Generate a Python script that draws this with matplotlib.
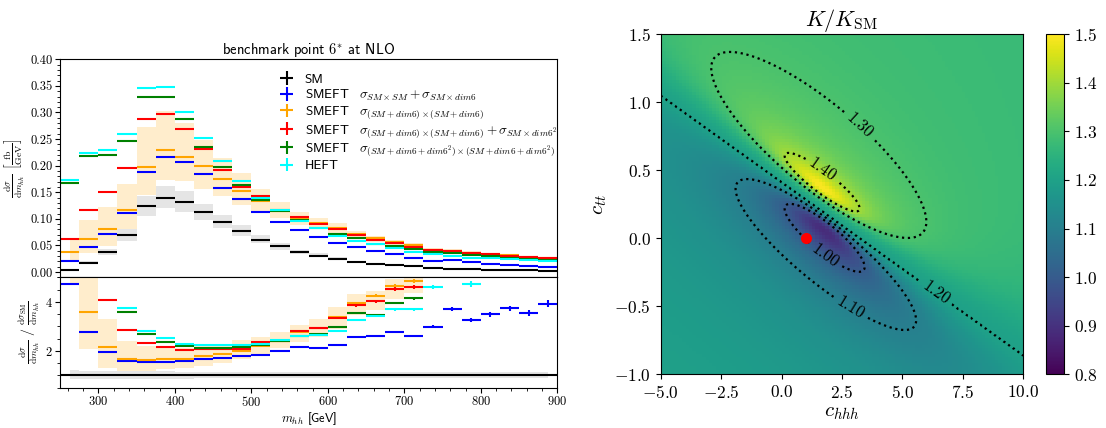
import numpy as np
import matplotlib
matplotlib.use('Agg')  # no display
import matplotlib.pyplot as plt
from matplotlib.ticker import MultipleLocator, AutoMinorLocator, FormatStrFormatter

plt.rcParams['font.family'] = 'serif'
plt.rcParams['font.serif'] = ['cmr10']
plt.rcParams['mathtext.fontset'] = 'cm'
plt.rcParams['axes.formatter.use_mathtext'] = True
plt.rcParams['axes.unicode_minus'] = True

SANS = 'cmss10'

# m_hh bins [GeV]
m_edges = np.arange(250, 925, 25)

# dsigma/dm_hh [fb/GeV] per bin
sm = [0.0042, 0.0172, 0.0370, 0.0688, 0.1232, 0.1390, 0.1320, 0.1120, 0.0935, 0.0765, 0.0610, 0.0480, 0.0370,
      0.0310, 0.0243, 0.0180, 0.0152, 0.0122, 0.0104, 0.0072, 0.0059, 0.0057, 0.0041, 0.0037, 0.0031, 0.0026]
smeft_lin = [0.0199, 0.0473, 0.0714, 0.1101, 0.1885, 0.2170, 0.2077, 0.1846, 0.1580, 0.1377, 0.1122, 0.0946, 0.0796,
             0.0654, 0.0544, 0.0461, 0.0397, 0.0336, 0.0270, 0.0215, 0.0218, 0.0186, 0.0143, 0.0138, 0.0110, 0.0102]
smeft_sq = [0.0369, 0.0619, 0.0801, 0.1157, 0.1983, 0.2297, 0.2172, 0.1996, 0.1746, 0.1514, 0.1330, 0.1150, 0.1021,
            0.0912, 0.0821, 0.0711, 0.0646, 0.0567, 0.0503, 0.0415, 0.0395, 0.0363, 0.0338, 0.0312, 0.0287, 0.0262]
smeft_sq_dim62 = [0.0619, 0.1157, 0.1508, 0.1959, 0.2873, 0.2973, 0.2685, 0.2316, 0.1921, 0.1600, 0.1433, 0.1160, 0.1036,
                  0.0908, 0.0816, 0.0693, 0.0611, 0.0551, 0.0479, 0.0406, 0.0387, 0.0356, 0.0331, 0.0306, 0.0281, 0.0256]
smeft_full = [0.1683, 0.2184, 0.2203, 0.2472, 0.3286, 0.3286, 0.2873, 0.2360, 0.1983, 0.1640, 0.1357, 0.1151, 0.0969,
              0.0834, 0.0722, 0.0637, 0.0527, 0.0482, 0.0430, 0.0370, 0.0356, 0.0325, 0.0294, 0.0270, 0.0244, 0.0225]
heft = [0.1721, 0.2247, 0.2297, 0.2590, 0.3455, 0.3487, 0.3017, 0.2516, 0.2096, 0.1715, 0.1390, 0.1169, 0.0962,
        0.0822, 0.0685, 0.0583, 0.0521, 0.0451, 0.0385, 0.0332, 0.0302, 0.0270, 0.0256, 0.0244, 0.0218, 0.0200]

# scale band of the sigma_(SM+dim6)x(SM+dim6) prediction
sq_band_lo = [0.0200, 0.0356, 0.0481, 0.0807, 0.1450, 0.1734, 0.1702, 0.1564, 0.1421, 0.1260, 0.1130, 0.1010, 0.0880,
              0.0800, 0.0702, 0.0625, 0.0559, 0.0501, 0.0455, 0.0385, 0.0365, 0.0336, 0.0313, 0.0290, 0.0266, 0.0243]
sq_band_hi = [0.0607, 0.0982, 0.1220, 0.1658, 0.2722, 0.3035, 0.2810, 0.2485, 0.2140, 0.1860, 0.1560, 0.1320, 0.1130,
              0.1020, 0.0921, 0.0779, 0.0673, 0.0601, 0.0545, 0.0445, 0.0425, 0.0390, 0.0363, 0.0336, 0.0308, 0.0281]
# SM scale band, relative to SM
sm_band_lo = [0.84, 0.85, 0.85, 0.84, 0.86, 0.86, 0.86, 0.87, 0.88, 0.88, 0.88, 0.88, 0.89,
              0.89, 0.89, 0.89, 0.90, 0.90, 0.90, 0.90, 0.90, 0.90, 0.88, 0.88, 0.88, 0.88]
sm_band_hi = [1.20, 1.19, 1.18, 1.17, 1.16, 1.17, 1.15, 1.15, 1.15, 1.15, 1.15, 1.14, 1.14,
              1.14, 1.13, 1.13, 1.12, 1.12, 1.12, 1.12, 1.12, 1.12, 1.13, 1.13, 1.13, 1.13]
# relative MC error per bin
stat_rel = [0.008, 0.006, 0.005, 0.005, 0.004, 0.004, 0.004, 0.005, 0.005, 0.006, 0.006, 0.007, 0.008,
            0.009, 0.010, 0.012, 0.013, 0.015, 0.017, 0.019, 0.022, 0.025, 0.028, 0.031, 0.034, 0.038]

labels = ['SM',
          r'SMEFT $\;\;\sigma_{SM\times SM}+\sigma_{SM\times dim6}$',
          r'SMEFT $\;\;\sigma_{(SM+dim6)\times(SM+dim6)}$',
          r'SMEFT $\;\;\sigma_{(SM+dim6)\times(SM+dim6)}+\sigma_{SM\times dim6^2}$',
          r'SMEFT $\;\;\sigma_{(SM+dim6+dim6^2)\times(SM+dim6+dim6^2)}$',
          'HEFT']
colors = ['black', 'blue', 'orange', 'red', 'green', 'cyan']
curves = [sm, smeft_lin, smeft_sq, smeft_sq_dim62, smeft_full, heft]

# K/K_SM map, points as (c_hhh, c_tt)
k_line = [1.048, -0.864]        # K = 1.2 line: c_tt at c_hhh = -5 and c_hhh = 10
iso_130 = [(-2.41, 1.237), (-2.48, 1.164), (-2.41, 1.066), (-2.13, 0.943), (-1.58, 0.821), (-1.03, 0.699),
           (-0.34, 0.576), (0.35, 0.478), (1.04, 0.380), (-1.51, 1.311), (-0.62, 1.287), (0.35, 1.262),
           (1.73, 1.115), (2.42, 0.993), (3.80, 0.772), (4.49, 0.674), (5.18, 0.526), (5.73, 0.379),
           (5.98, 0.232), (5.87, 0.110), (5.45, 0.024), (4.90, 0.012), (4.21, 0.037), (3.52, 0.085), (2.83, 0.135)]
iso_140 = [(0.14, 0.637), (0.49, 0.644), (0.07, 0.576), (0.40, 0.470), (1.45, 0.355), (2.28, 0.306),
           (2.35, 0.330), (1.75, 0.515), (1.00, 0.600)]
iso_110 = [(-1.44, 0.429), (-1.51, 0.355), (-1.30, 0.232), (-1.03, 0.135), (-0.61, 0.012), (-1.03, 0.441),
           (-0.34, 0.416), (0.50, -0.170), (1.50, -0.360), (2.70, -0.551), (3.24, -0.625), (4.21, -0.724),
           (5.18, -0.760), (5.59, -0.699), (5.31, -0.478), (4.49, -0.233), (3.80, -0.110)]
iso_100 = [(0.21, 0.282), (0.07, 0.232), (0.35, 0.135), (0.76, 0.037), (1.0, 0.0), (1.87, -0.098),
           (2.83, -0.170), (2.76, -0.086)]
# colour readings away from the contours: (c_hhh, c_tt, K/K_SM)
k_spots = [(10, 1.5, 1.27), (10, 0.8, 1.27), (6, 1.4, 1.28), (-5, 1.5, 1.28), (-5, 1.25, 1.24),
           (-5, -1, 1.17), (-5, 0, 1.16), (2.5, -1, 1.13), (7.5, -1, 1.17), (10, -1, 1.19),
           (1.0, 0.50, 1.45), (1.5, 0.45, 1.45), (1.6, 0.03, 0.88)]
k_levels = [1.0, 1.1, 1.2, 1.3, 1.4]
sm_point = (1.0, 0.0)


def line_ctt(chhh):
    return k_line[0] + (k_line[1] - k_line[0]) * (np.asarray(chhh) + 5) / 15


def fit_ratio(points):
    # K - 1.2 = s * (linear) / (quadratic), linear least squares on read-off points
    px, py, pv = np.array(points).T
    t = (px - 1.5) / 5
    s = py - line_ctt(px)
    f = pv - 1.2
    rows = np.column_stack([s, s * t, s * s, -f, -f * t, -f * s, -f * t * t, -f * t * s, -f * s * s])
    rows /= np.linalg.norm(rows, axis=1, keepdims=True)
    return np.linalg.svd(rows)[2][-1]


pts = [(x, y, 1.3) for x, y in iso_130] + [(x, y, 1.4) for x, y in iso_140] + \
      [(x, y, 1.1) for x, y in iso_110] + [(x, y, 1.0) for x, y in iso_100] + list(k_spots)
coef_dn = fit_ratio(pts)
coef_up = fit_ratio([p for p in pts if p[1] > line_ctt(p[0])])


def k_ratio(chhh, ctt):
    t = (chhh - 1.5) / 5
    s = ctt - line_ctt(chhh)
    c = np.moveaxis(np.where(s[..., None] > 0, coef_up, coef_dn), -1, 0)
    num = s * (c[0] + c[1] * t + c[2] * s)
    den = c[3] + c[4] * t + c[5] * s + c[6] * t * t + c[7] * t * s + c[8] * s * s
    return 1.2 + num / den


fig = plt.figure(figsize=(11.06, 4.28), dpi=100)

# ---------- left: differential distributions ----------
centers = 0.5 * (m_edges[:-1] + m_edges[1:])
half = 0.5 * (m_edges[1] - m_edges[0])
sm_a = np.array(sm)
rel = np.array(stat_rel)

ax1 = fig.add_axes([0.0543, 0.3521, 0.4496, 0.5093])
ax2 = fig.add_axes([0.0543, 0.0946, 0.4496, 0.2575], sharex=ax1)

ax1.fill_between(centers, sm_a * np.array(sm_band_lo), sm_a * np.array(sm_band_hi), step='mid',
                 color='gray', alpha=0.2, lw=0)
ax1.fill_between(centers, sq_band_lo, sq_band_hi, step='mid', color='orange', alpha=0.2, lw=0)
ax2.fill_between(centers, sm_band_lo, sm_band_hi, step='mid', color='gray', alpha=0.2, lw=0)
ax2.fill_between(centers, np.array(sq_band_lo) / sm_a, np.array(sq_band_hi) / sm_a, step='mid',
                 color='orange', alpha=0.2, lw=0)

for vals, col, lab in zip(curves, colors, labels):
    v = np.array(vals)
    ax1.errorbar(centers, v, xerr=half, yerr=v * rel, fmt='none', ecolor=col, elinewidth=1.5, label=lab)
    r = v / sm_a
    ax2.errorbar(centers, r, xerr=half, yerr=r * rel, fmt='none', ecolor=col, elinewidth=1.5)

ax1.set_xlim(250, 900)
ax1.set_ylim(-0.01, 0.40)
ax1.yaxis.set_major_locator(MultipleLocator(0.05))
ax1.yaxis.set_minor_locator(MultipleLocator(0.01))
ax1.yaxis.set_major_formatter(FormatStrFormatter('%.2f'))
ax1.tick_params(axis='x', bottom=False, labelbottom=False)
ax1.tick_params(axis='y', labelsize=9, length=3.5, pad=2)
ax1.tick_params(axis='y', which='minor', length=2)
ax1.set_title(r'benchmark point $6^{*}$ at NLO', fontsize=10.5, family=SANS, pad=4)
ax1.set_ylabel(r'$\frac{\mathrm{d}\sigma}{\mathrm{d}m_{hh}}\ \left[\frac{\mathrm{fb}}{\mathrm{GeV}}\right]$',
               fontsize=10, labelpad=2)
ax1.legend(loc='upper left', bbox_to_anchor=(0.415, 0.99), frameon=False, handlelength=1.3,
           handletextpad=0.7, labelspacing=0.15, prop={'family': SANS, 'size': 9.5})

ax2.set_ylim(0.5, 5.0)
ax2.yaxis.set_major_locator(MultipleLocator(2))
ax2.yaxis.set_minor_locator(MultipleLocator(0.5))
ax2.xaxis.set_major_locator(MultipleLocator(100))
ax2.xaxis.set_minor_locator(AutoMinorLocator(5))
ax2.tick_params(labelsize=9, length=3.5, pad=2)
ax2.tick_params(which='minor', length=2)
ax2.set_xlabel(r'$m_{hh}$ [GeV]', fontsize=9, family=SANS, labelpad=1)
ax2.set_ylabel(r'$\frac{\mathrm{d}\sigma}{\mathrm{d}m_{hh}}\ /\ \frac{\mathrm{d}\sigma_{\mathrm{SM}}}{\mathrm{d}m_{hh}}$',
               fontsize=10, labelpad=2)

# ---------- right: K/K_SM map ----------
ax3 = fig.add_axes([0.5974, 0.1255, 0.3278, 0.7944])
cax = fig.add_axes([0.9458, 0.1255, 0.0163, 0.7944])

gx, gy = np.meshgrid(np.linspace(-5, 10, 110), np.linspace(-1, 1.5, 110))
mesh = ax3.pcolormesh(gx, gy, k_ratio(gx, gy), cmap='viridis', vmin=0.8, vmax=1.5, shading='nearest')
fx, fy = np.meshgrid(np.linspace(-5, 10, 500), np.linspace(-1, 1.5, 500))
cs = ax3.contour(fx, fy, k_ratio(fx, fy), levels=k_levels, colors='black', linestyles='dotted', linewidths=1.6)
ax3.clabel(cs, fmt='%.2f', fontsize=12, inline=True,
           manual=[(1.9, -0.1), (2.7, -0.55), (6.4, -0.4), (3.3, 0.85), (1.75, 0.52)])
ax3.plot(*sm_point, 'o', color='red', ms=7)
ax3.set_xlim(-5, 10)
ax3.set_ylim(-1, 1.5)
ax3.xaxis.set_major_locator(MultipleLocator(2.5))
ax3.yaxis.set_major_locator(MultipleLocator(0.5))
ax3.tick_params(labelsize=12.5)
ax3.set_xlabel(r'$c_{hhh}$', fontsize=15, labelpad=2)
ax3.set_ylabel(r'$c_{tt}$', fontsize=15, labelpad=4)
ax3.set_title(r'$K/K_{\mathrm{SM}}$', fontsize=16, pad=6)

cb = fig.colorbar(mesh, cax=cax)
cb.set_ticks([0.8, 0.9, 1.0, 1.1, 1.2, 1.3, 1.4, 1.5])
cb.ax.tick_params(labelsize=12.5)

fig.savefig('out.png', dpi=100)
